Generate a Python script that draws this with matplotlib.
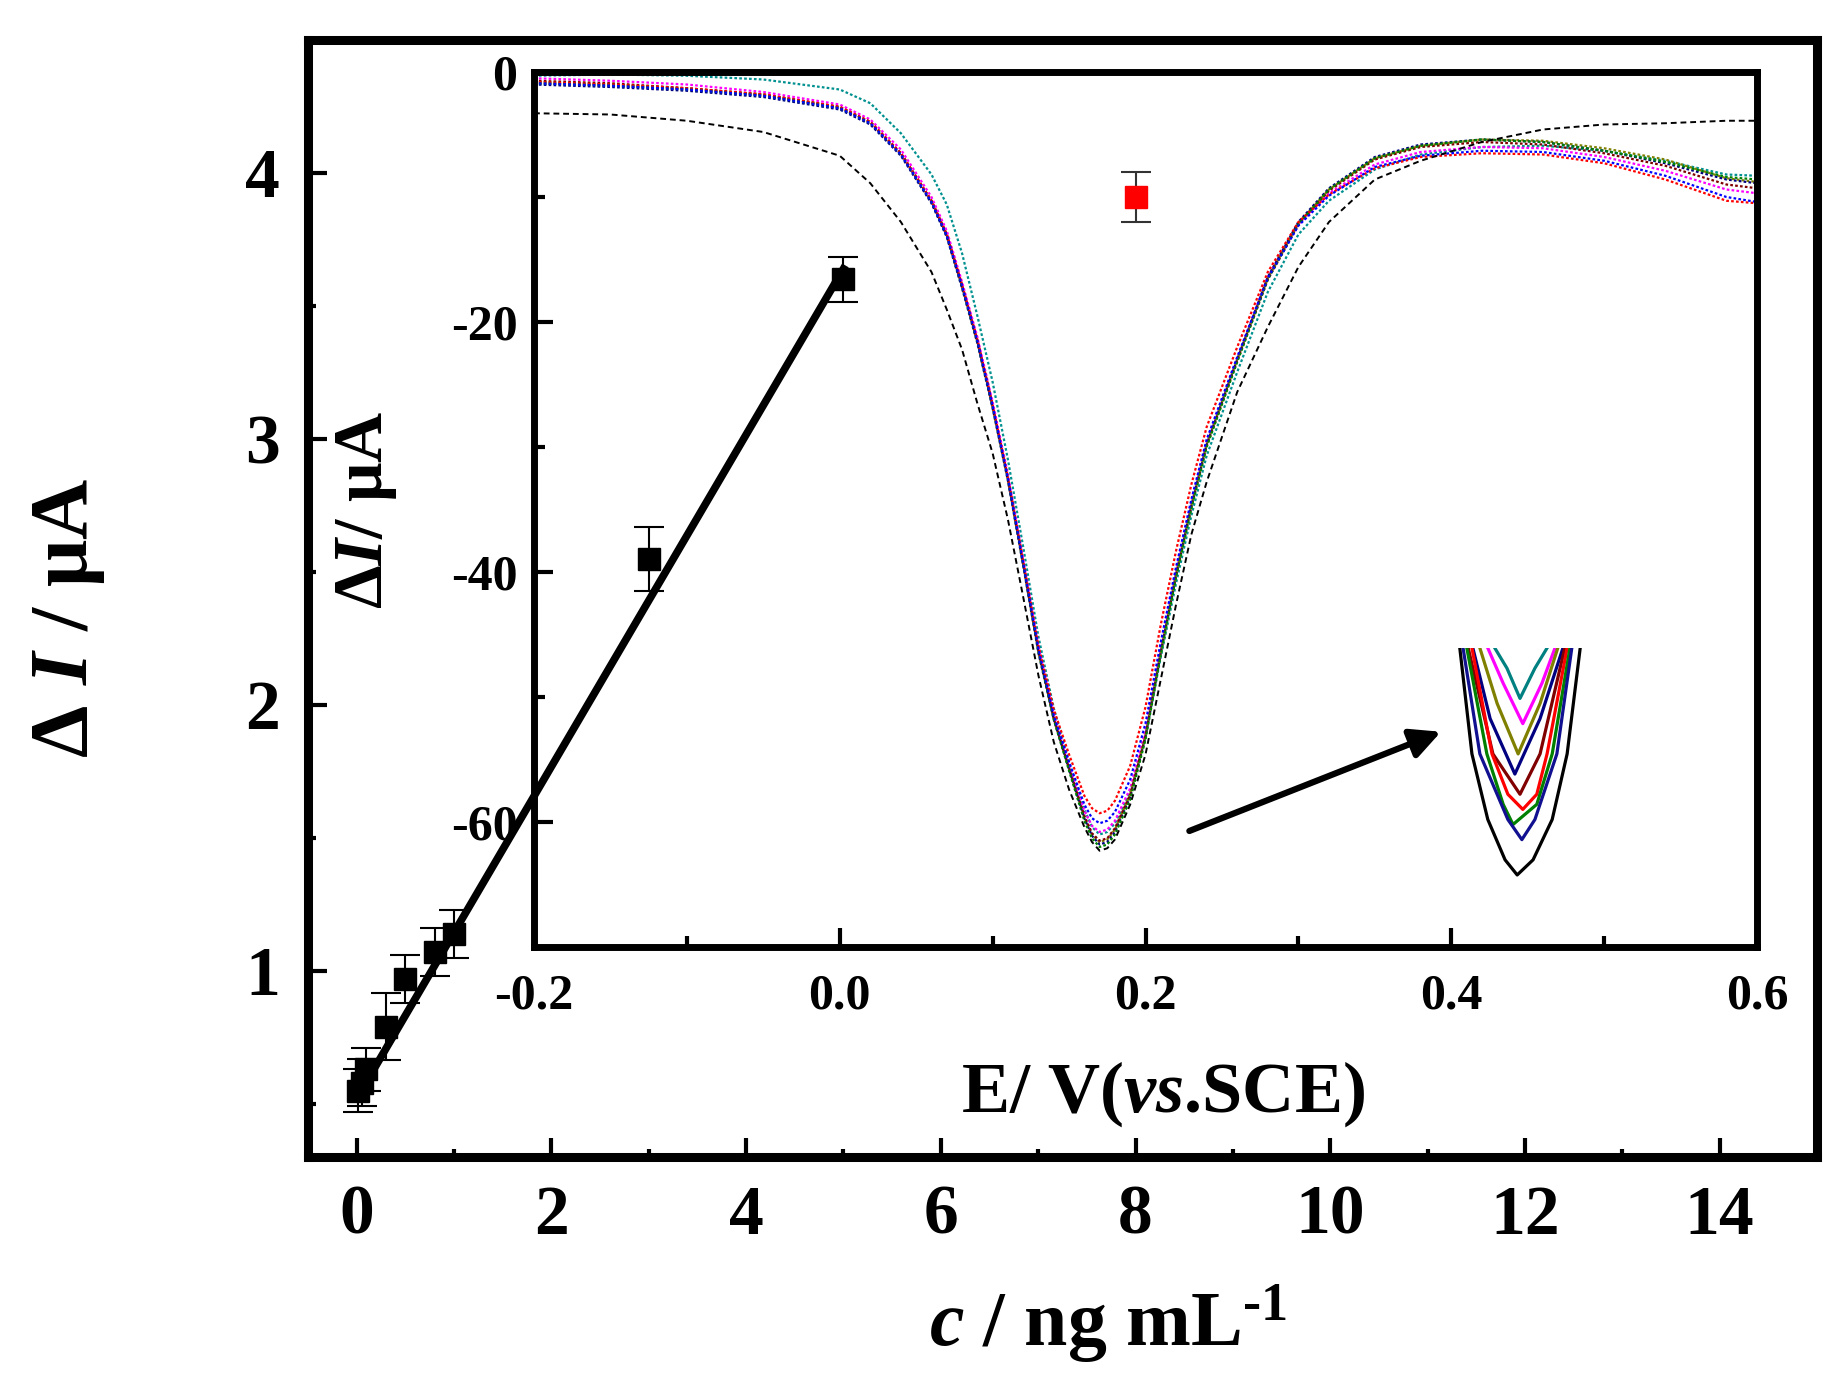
import matplotlib
matplotlib.use('Agg')
import matplotlib.pyplot as plt
from matplotlib.ticker import MultipleLocator, FormatStrFormatter

plt.rcParams['font.family'] = ['Liberation Serif', 'DejaVu Serif']
plt.rcParams['font.weight'] = 'bold'
plt.rcParams['axes.labelweight'] = 'bold'
plt.rcParams['mathtext.fontset'] = 'custom'
plt.rcParams['mathtext.rm'] = 'Liberation Serif:bold'
plt.rcParams['mathtext.bf'] = 'Liberation Serif:bold'
plt.rcParams['mathtext.it'] = 'Liberation Serif:italic:bold'
plt.rcParams['axes.unicode_minus'] = False

# calibration data (main plot)
conc = [0.01, 0.05, 0.1, 0.3, 0.5, 0.8, 1.0, 3.0, 5.0]
dI = [0.55, 0.58, 0.63, 0.79, 0.97, 1.07, 1.14, 2.55, 3.60]
dI_err = [0.08, 0.09, 0.08, 0.125, 0.09, 0.09, 0.09, 0.12, 0.085]
red_conc = [8.0]
red_dI = [3.91]
red_err = [0.094]
fit_x = [0.0, 5.0]
fit_y = [0.52, 3.64]

# DPV curves (inset)
E = [-0.20, -0.15, -0.10, -0.05, 0.00, 0.02, 0.04, 0.06, 0.07, 0.08,
     0.09, 0.10, 0.11, 0.12, 0.13, 0.14, 0.15, 0.16, 0.165, 0.17,
     0.175, 0.18, 0.19, 0.20, 0.21, 0.22, 0.23, 0.24, 0.26, 0.28,
     0.30, 0.32, 0.35, 0.38, 0.42, 0.46, 0.50, 0.54, 0.58, 0.60]

I_blank = [-3.3, -3.4, -3.9, -4.8, -6.7, -8.9, -12.0, -16.0, -19.0, -22.2,
           -26.5, -30.5, -35.8, -42.0, -48.3, -53.6, -57.4, -60.4, -61.6, -62.3,
           -62.1, -61.4, -58.6, -54.6, -48.6, -42.6, -37.0, -32.8, -25.6, -20.4,
           -15.6, -12.0, -8.6, -7.1, -5.6, -4.6, -4.2, -4.1, -3.9, -3.9]

I_teal = [-0.3, -0.2, -0.3, -0.6, -1.4, -2.5, -4.9, -8.2, -10.6, -14.5,
          -19.5, -24.8, -31.0, -38.0, -45.2, -50.9, -55.2, -59.0, -60.4, -61.0,
          -60.8, -60.1, -57.6, -53.2, -46.8, -40.9, -35.5, -30.7, -24.0, -17.6,
          -13.0, -10.3, -7.8, -6.6, -6.0, -5.9, -6.3, -7.1, -8.2, -8.3]
I_magenta = [-0.5, -0.7, -1.0, -1.6, -2.6, -3.8, -6.2, -10.0, -12.7, -16.8,
             -21.2, -26.4, -32.2, -39.0, -46.0, -51.4, -55.4, -59.1, -60.3, -60.8,
             -60.6, -59.9, -57.3, -52.7, -46.0, -39.9, -34.4, -29.6, -22.9, -16.4,
             -12.2, -9.7, -7.4, -6.4, -6.0, -6.1, -6.8, -7.9, -9.4, -9.7]
I_olive = [-0.8, -1.0, -1.3, -1.8, -2.8, -4.0, -6.5, -10.3, -13.0, -17.1,
           -21.5, -26.7, -32.5, -39.3, -46.3, -51.7, -55.7, -59.6, -61.0, -61.6,
           -61.4, -60.6, -57.8, -53.1, -46.4, -40.2, -34.7, -29.8, -23.0, -16.5,
           -12.1, -9.4, -6.9, -5.9, -5.4, -5.5, -6.1, -7.0, -8.5, -8.8]
I_navy = [-1.0, -1.2, -1.5, -2.0, -3.0, -4.2, -6.7, -10.5, -13.2, -17.3,
          -21.7, -26.9, -32.7, -39.5, -46.5, -51.8, -55.8, -59.7, -61.1, -61.8,
          -61.6, -60.8, -58.0, -53.2, -46.4, -40.2, -34.7, -29.8, -23.0, -16.4,
          -12.0, -9.3, -6.8, -5.8, -5.4, -5.6, -6.3, -7.3, -8.6, -8.9]
I_maroon = [-0.7, -0.9, -1.3, -1.8, -2.8, -4.0, -6.5, -10.3, -13.0, -17.1,
            -21.5, -26.7, -32.5, -39.3, -46.3, -51.7, -55.7, -59.5, -60.9, -61.5,
            -61.3, -60.5, -57.8, -53.1, -46.4, -40.3, -34.8, -29.9, -23.1, -16.6,
            -12.2, -9.5, -7.0, -6.0, -5.6, -5.8, -6.5, -7.5, -9.0, -9.3]
I_red = [-0.8, -1.0, -1.3, -1.8, -2.8, -4.0, -6.5, -10.3, -13.0, -17.0,
         -21.4, -26.6, -32.4, -39.1, -45.9, -51.0, -54.6, -57.9, -58.9, -59.3,
         -59.1, -58.3, -55.5, -50.8, -44.2, -38.3, -33.0, -28.4, -22.0, -16.0,
         -12.0, -9.8, -7.7, -6.8, -6.5, -6.6, -7.3, -8.6, -10.3, -10.5]
I_green = [-0.9, -1.1, -1.4, -1.9, -2.9, -4.1, -6.6, -10.4, -13.1, -17.2,
           -21.6, -26.8, -32.6, -39.4, -46.4, -51.8, -55.9, -59.9, -61.3, -62.0,
           -61.8, -61.0, -58.2, -53.4, -46.6, -40.4, -34.9, -30.0, -23.2, -16.6,
           -12.2, -9.4, -6.9, -5.9, -5.4, -5.6, -6.3, -7.2, -8.4, -8.6]
I_blue = [-0.9, -1.1, -1.4, -1.9, -2.9, -4.1, -6.6, -10.4, -13.1, -17.1,
          -21.5, -26.7, -32.5, -39.3, -46.2, -51.5, -55.2, -58.6, -59.7, -60.1,
          -59.9, -59.2, -56.6, -52.1, -45.6, -39.6, -34.2, -29.4, -22.8, -16.5,
          -12.3, -9.9, -7.6, -6.7, -6.3, -6.4, -7.1, -8.3, -10.0, -10.4]

curves = [
    (I_teal, '#009090'), (I_magenta, '#ff00ff'), (I_olive, '#808000'),
    (I_navy, '#000080'), (I_maroon, '#800000'), (I_red, '#ff0000'),
    (I_green, '#008000'), (I_blue, '#0000ff'),
]

# magnified view of the peak bottoms (E in mV, I in uA)
zoom_curves = [
    ([164.6, 167.2, 170.0, 173.2, 175.8], [-58.2, -58.6, -59.2, -58.6, -58.2], '#008080'),
    ([163.1, 166.4, 170.6, 174.7, 177.5], [-58.2, -58.9, -59.7, -58.9, -58.2], '#ff00ff'),
    ([161.4, 165.1, 169.6, 174.3, 178.1], [-58.2, -59.3, -60.3, -59.3, -58.2], '#808000'),
    ([159.9, 163.6, 168.9, 174.3, 179.2], [-58.2, -59.6, -60.7, -59.6, -58.2], '#000080'),
    ([158.9, 164.2, 170.0, 174.3, 179.6], [-58.2, -60.3, -61.1, -60.3, -58.2], '#800000'),
    ([159.7, 164.0, 167.4, 170.6, 173.6, 175.8, 180.1],
     [-58.2, -60.3, -61.1, -61.4, -61.1, -60.3, -58.2], '#ff0000'),
    ([158.6, 162.9, 166.4, 168.5, 173.6, 176.9, 180.7],
     [-58.2, -60.3, -61.3, -61.7, -61.3, -60.3, -58.2], '#008000'),
    ([157.8, 161.4, 167.4, 170.4, 173.2, 177.9, 181.1],
     [-58.2, -60.3, -61.6, -62.0, -61.6, -60.3, -58.2], '#101090'),
    ([157.1, 159.7, 163.1, 166.8, 169.4, 172.8, 176.9, 180.1, 182.9],
     [-58.2, -60.3, -61.6, -62.4, -62.7, -62.4, -61.6, -60.3, -58.2], '#000000'),
]

arrow_start = (0.227, -60.8)
arrow_end = (0.395, -52.7)

W, H = 1843, 1384
fig = plt.figure(figsize=(W / 100, H / 100), dpi=100)
ax = fig.add_axes([308 / W, 1 - 1157 / H, (1817 - 308) / W, (1157 - 40) / H])
ax_in = fig.add_axes([534 / W, 1 - 947 / H, (1757 - 534) / W, (947 - 72) / H])
ax_in.patch.set_alpha(0)
ax_zoom = fig.add_axes([1450 / W, 1 - 880 / H, 140 / W, 232 / H])
ax_zoom.patch.set_alpha(0)

# main calibration plot
ax.plot(fit_x, fit_y, color='k', lw=5.5, zorder=2)
ax.errorbar(conc, dI, yerr=dI_err, fmt='s', color='k', ms=16, capsize=11,
            elinewidth=1.5, capthick=1.5, zorder=3)
ax.errorbar(red_conc, red_dI, yerr=red_err, fmt='s', mfc='red', mec='red',
            ecolor='#333333', ms=16, capsize=11, elinewidth=1.5, capthick=1.5, zorder=3)

ax.set_xlim(-0.5, 15)
ax.set_ylim(0.3, 4.5)
ax.set_xticks(range(0, 15, 2))
ax.set_yticks([1, 2, 3, 4])
ax.xaxis.set_minor_locator(MultipleLocator(1))
ax.yaxis.set_minor_locator(MultipleLocator(0.5))
ax.tick_params(which='both', direction='in', top=False, right=False,
               labelsize=50, pad=20, width=3)
ax.tick_params(which='major', length=14)
ax.tick_params(which='minor', length=6)
for s in ax.spines.values():
    s.set_linewidth(6.5)
ax.set_xlabel(r'$\mathit{c}$ / ng mL$^{\text{-1}}$', fontsize=56)
ax.xaxis.set_label_coords(0.53, -0.112)
ax.set_ylabel(r'$\mathit{Δ\ I}$ / μA', fontsize=60)
ax.yaxis.set_label_coords(-0.133, 0.483)

# inset DPV curves
for vals, col in curves:
    ax_in.plot(E, vals, color=col, lw=1.6, linestyle=(0, (1.2, 1.0)))
ax_in.plot(E, I_blank, color='k', lw=1.4, linestyle=(0, (3, 2)))
ax_in.annotate('', xy=arrow_end, xytext=arrow_start,
               arrowprops=dict(arrowstyle='-|>', lw=4.5, color='k', mutation_scale=45))

ax_in.set_xlim(-0.2, 0.6)
ax_in.set_ylim(-70, 0)
ax_in.set_xticks([-0.2, 0.0, 0.2, 0.4, 0.6])
ax_in.set_yticks([0, -20, -40, -60])
ax_in.xaxis.set_minor_locator(MultipleLocator(0.1))
ax_in.yaxis.set_minor_locator(MultipleLocator(10))
ax_in.xaxis.set_major_formatter(FormatStrFormatter('%.1f'))
ax_in.yaxis.set_major_formatter(FormatStrFormatter('%d'))
ax_in.tick_params(which='both', direction='in', top=False, right=False,
                  labelsize=36, width=3)
ax_in.tick_params(axis='x', pad=19)
ax_in.tick_params(axis='y', pad=12)
ax_in.tick_params(which='major', length=14)
ax_in.tick_params(which='minor', length=8)
for s in ax_in.spines.values():
    s.set_linewidth(5)
ax_in.set_xlabel(r'E/ V($\mathit{vs}$.SCE)', fontsize=52)
ax_in.xaxis.set_label_coords(0.514, -0.128)
ax_in.set_ylabel(r'Δ$\mathit{I}$/ μA', fontsize=50)
ax_in.yaxis.set_label_coords(-0.11, 0.5)

# magnified peak bottoms
for ex, iy, col in zoom_curves:
    ax_zoom.plot(ex, iy, color=col, lw=2.3)
ax_zoom.set_xlim(155, 185)
ax_zoom.set_ylim(-62.8, -58.2)
ax_zoom.axis('off')

fig.savefig('out.png', dpi=100)
